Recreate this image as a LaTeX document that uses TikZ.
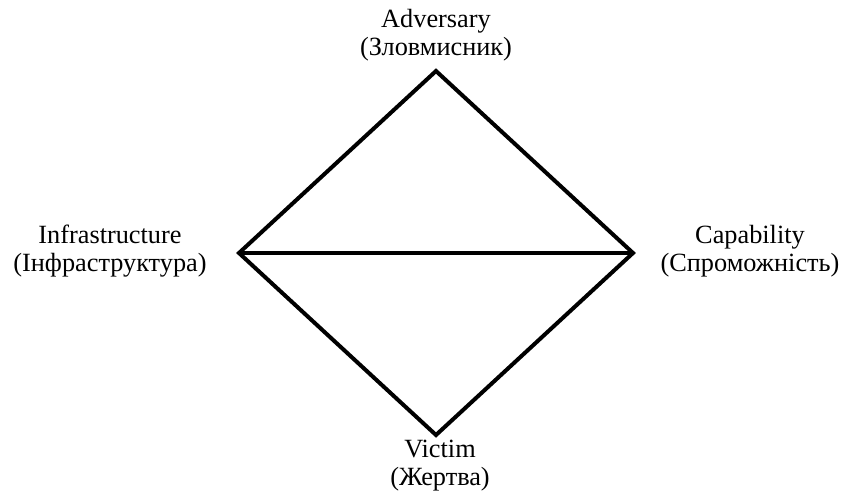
\documentclass[tikz,border=0pt]{standalone}
\usepackage{fontspec}
\setmainfont{Liberation Serif}
\begin{document}
\begin{tikzpicture}[x=1pt,y=-1pt,
  lbl/.style={align=center,inner sep=0pt,anchor=base,font=\fontsize{26.3}{28}\selectfont},
  edge/.style={line width=4pt,line join=miter}]
\useasboundingbox (0,0) rectangle (843,493);
\coordinate (A) at (436,71);
\coordinate (I) at (239,253);
\coordinate (C) at (633,253);
\coordinate (V) at (436,435);
\draw[edge] (A) -- (C) -- (V) -- (I) -- cycle;
\draw[edge] (I) -- (C);
\node[lbl] (adv) at (436,55) {Adversary\\(Зловмисник)};
\node[lbl] (inf) at (110,271) {Infrastructure\\(Інфраструктура)};
\node[lbl] (cap) at (750,271) {Capability\\(Спроможність)};
\node[lbl] (vic) at (440,485) {Victim\\(Жертва)};
\end{tikzpicture}
\end{document}
